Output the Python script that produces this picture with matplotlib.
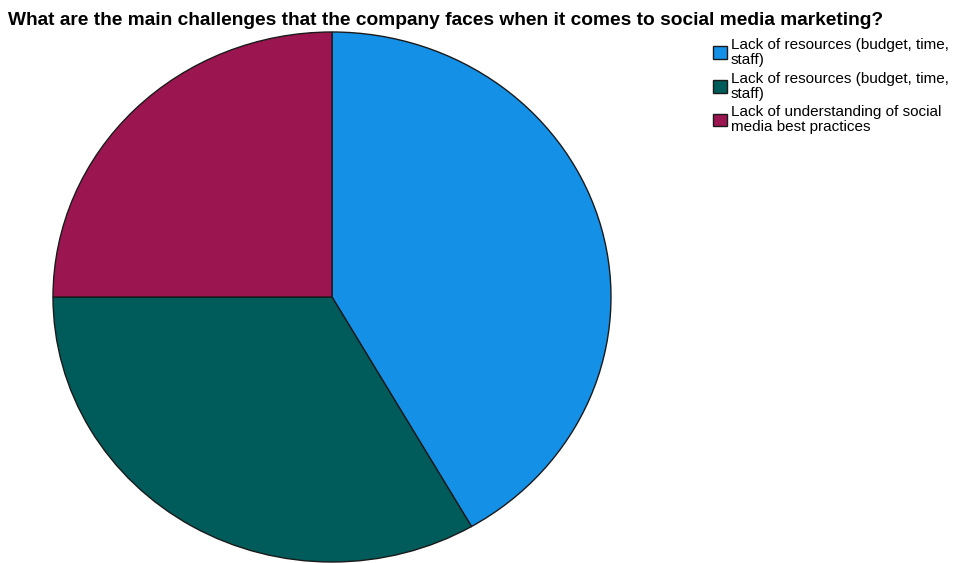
import matplotlib
matplotlib.use('Agg')
import matplotlib.pyplot as plt

# 回答の件数(円グラフから読み取り)
labels = ['Lack of resources (budget, time,\nstaff)',
          'Lack of resources (budget, time,\nstaff)',
          'Lack of understanding of social\nmedia best practices']
counts = [5, 4, 3]
colors = ['#1490E6', '#005C5A', '#9B1650']

plt.rcParams['font.family'] = ['Liberation Sans', 'DejaVu Sans']

fig = plt.figure(figsize=(9.65, 5.63), dpi=100)
ax = fig.add_axes([53 / 965, 1 / 563, 558 / 965, 530 / 563])

wedges, _ = ax.pie(counts, colors=colors, startangle=90, counterclock=False,
                   wedgeprops={'edgecolor': '#1a1a1a', 'linewidth': 1.0})
ax.set_aspect('auto')
ax.set_xlim(-1.0, 1.0)
ax.set_ylim(-1.0, 1.0)

fig.text(8 / 965, 1 - 25 / 563, 'What are the main challenges that the company faces when it comes to social media marketing?',
         fontsize=13.8, fontweight='bold', ha='left', va='baseline')

leg = fig.legend(wedges, labels, loc='upper left', bbox_to_anchor=(713 / 965, 1 - 38 / 563),
                 frameon=False, fontsize=11, handlelength=0.9, handleheight=0.9,
                 handletextpad=0.25, labelspacing=0.3, borderpad=0.0, borderaxespad=0.0)
for t in leg.get_texts():
    t.set_linespacing(1.1)

fig.savefig('out.png', dpi=100)
